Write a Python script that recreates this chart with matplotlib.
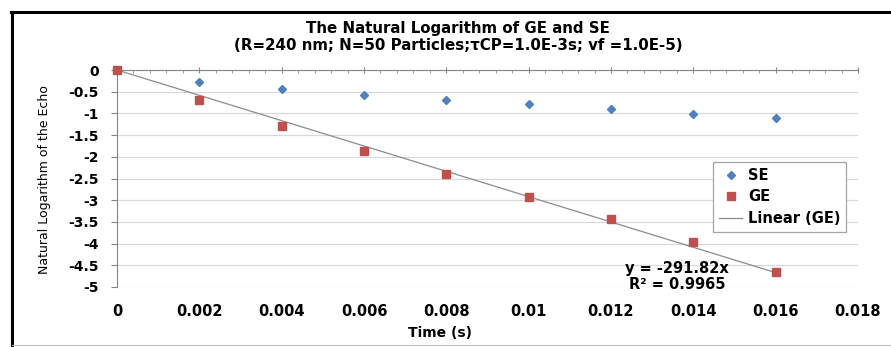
import numpy as np
import matplotlib
matplotlib.use("Agg")
import matplotlib.pyplot as plt
from matplotlib.lines import Line2D
from matplotlib.ticker import MultipleLocator

# Echo data: time (s) vs natural log of the echo
time_s = [0.0, 0.002, 0.004, 0.006, 0.008, 0.010, 0.012, 0.014, 0.016]
se_vals = [0.0, -0.28, -0.44, -0.57, -0.68, -0.79, -0.91, -1.01, -1.10]
ge_vals = [0.0, -0.69, -1.30, -1.87, -2.40, -2.93, -3.43, -3.97, -4.65]
ge_slope = -291.82
ge_r2 = 0.9965

title = "The Natural Logarithm of GE and SE\n(R=240 nm; N=50 Particles;τCP=1.0E-3s; vf =1.0E-5)"
x_label = "Time (s)"
y_label = "Natural Logarithm of the Echo"

BLUE = "#4f81bd"
RED = "#c0504d"
GRID = "#d9d9d9"
AXIS = "#868686"
FONT = ["DejaVu Sans"]

W, H = 891, 347
fig = plt.figure(figsize=(W / 100, H / 100), dpi=100)
fig.patch.set_facecolor("white")

def fx(px):
    return px / W

def fy(py):
    return 1 - py / H

# chart frame: heavy left/top edge, light bottom edge
fig.add_artist(Line2D([fx(12), fx(12)], [fy(12), fy(346)], color="black", lw=2.2,
                      transform=fig.transFigure))
fig.add_artist(Line2D([fx(11), 1.0], [fy(12), fy(12)], color="black", lw=2.2,
                      transform=fig.transFigure))
fig.add_artist(Line2D([fx(12), 1.0], [fy(345), fy(345)], color="#bfbfbf", lw=0.8,
                      transform=fig.transFigure))

left, right, top, bottom = 117, 858, 70, 287
ax = fig.add_axes([fx(left), fy(bottom), fx(right - left), fy(top) - fy(bottom)])
ax.set_xlim(0, 0.018)
ax.set_ylim(-5, 0)

for s in ax.spines.values():
    s.set_visible(False)
for side in ("top", "left"):
    ax.spines[side].set_visible(True)
    ax.spines[side].set_color(AXIS)
    ax.spines[side].set_linewidth(0.8)

ax.yaxis.set_major_locator(MultipleLocator(0.5))
ax.xaxis.set_major_locator(MultipleLocator(0.002))
ax.xaxis.set_minor_locator(MultipleLocator(0.0004))
ax.grid(axis="y", color=GRID, lw=0.9)
ax.set_axisbelow(True)

ax.tick_params(axis="x", which="major", top=True, bottom=False, labeltop=False,
               labelbottom=True, direction="inout", length=5, color=AXIS,
               pad=10, labelsize=10.5)
ax.tick_params(axis="x", which="minor", top=True, bottom=False, direction="in",
               length=2.5, color=AXIS)
ax.tick_params(axis="y", direction="out", length=4, color=AXIS, pad=9, labelsize=10)

ax.set_xticks(np.arange(0, 0.0181, 0.002))
ax.set_xticklabels(["0"] + [f"{v:g}" for v in np.arange(0.002, 0.0181, 0.002)])
ax.set_yticks(np.arange(-5, 0.01, 0.5))
ax.set_yticklabels([f"{v:g}" for v in np.arange(-5, 0.01, 0.5)])
for lab in ax.get_xticklabels() + ax.get_yticklabels():
    lab.set_fontweight("bold")
    lab.set_family(FONT)

# trend line through the origin over the GE data range
t_fit = np.array([min(time_s), max(time_s)])
ax.plot(t_fit, ge_slope * t_fit, color="#8c8c8c", lw=0.9, zorder=2,
        label="Linear (GE)")
ax.plot(time_s, se_vals, linestyle="none", marker="D", ms=3.8, color=BLUE,
        mec=BLUE, zorder=3, label="SE", clip_on=False)
ax.plot(time_s, ge_vals, linestyle="none", marker="s", ms=6, color=RED,
        mec=RED, zorder=4, label="GE", clip_on=False)

handles, labels = ax.get_legend_handles_labels()
order = [1, 2, 0]
leg = ax.legend([handles[i] for i in order], [labels[i] for i in order],
                loc="upper left", bbox_to_anchor=((713 - left) / (right - left),
                                                  1 - (162 - top) / (bottom - top)),
                frameon=True, fancybox=False, edgecolor="#a6a6a6", framealpha=1,
                prop={"family": FONT, "weight": "bold", "size": 10.5},
                handlelength=1.6, handletextpad=0.4, borderpad=0.4,
                labelspacing=0.45, borderaxespad=0)
leg.get_frame().set_linewidth(0.9)

ax.text(0.0136, -4.4, f"y = {ge_slope}x\nR² = {ge_r2}", ha="center", va="top",
        fontsize=10.5, fontweight="bold", family=FONT, linespacing=1.05)

fig.text(fx(458), fy(37), title, ha="center", va="center", fontsize=10.8,
         fontweight="bold", family=FONT, linespacing=1.25)
fig.text(fx(440), fy(333), x_label, ha="center", va="center", fontsize=10,
         fontweight="bold", family=FONT)
fig.text(fx(45), fy(180), y_label, ha="center", va="center", rotation=90,
         fontsize=9, family=["Liberation Sans Narrow", "DejaVu Sans"])

fig.savefig("out.png", dpi=100, facecolor="white")
